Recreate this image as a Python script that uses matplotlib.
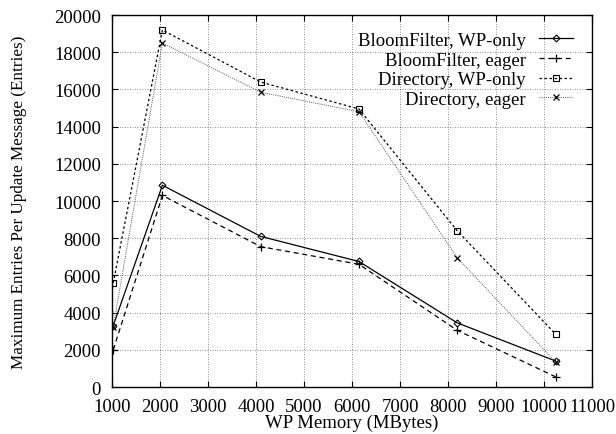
import numpy as np
import matplotlib.pyplot as plt

plt.rcParams['font.family'] = ['Liberation Serif', 'DejaVu Serif']

mem = [1024, 2048, 4096, 6144, 8192, 10240]
bloom_wp = [3300, 10850, 8100, 6750, 3450, 1400]
bloom_eager = [2000, 10300, 7550, 6600, 3050, 550]
dir_wp = [5600, 19200, 16400, 14950, 8400, 2850]
dir_eager = [3250, 18500, 15850, 14800, 6950, 1350]

fig = plt.figure(figsize=(6.16, 4.35), dpi=100)
ax = fig.add_axes([0.182, 0.108, 0.779, 0.855])

ax.plot(mem, bloom_wp, color='black', lw=0.9, ls='-', marker='D', ms=3.5,
        mfc='none', mew=0.8, label='BloomFilter, WP-only')
ax.plot(mem, bloom_eager, color='black', lw=0.9, ls=(0, (4, 3)), marker='+', ms=6,
        mew=0.9, label='BloomFilter, eager')
ax.plot(mem, dir_wp, color='black', lw=0.9, ls=(0, (2, 2)), marker='s', ms=5,
        mfc='none', mew=0.8, label='Directory, WP-only')
ax.plot(mem, dir_eager, color='#555555', lw=0.7, ls=(0, (1, 1.2)), marker='x', ms=5,
        mew=0.9, mec='black', label='Directory, eager')

ax.set_xlim(1000, 11000)
ax.set_ylim(0, 20000)
ax.set_xticks(np.arange(1000, 11001, 1000))
ax.set_yticks(np.arange(0, 20001, 2000))
ax.tick_params(direction='in', top=True, right=True, labelsize=13.5, length=4)
ax.tick_params(axis='x', pad=8)
ax.tick_params(axis='y', pad=8)
ax.grid(color='black', linestyle=(0, (1, 2)), linewidth=0.6, alpha=0.6)
for s in ax.spines.values():
    s.set_linewidth(1.0)

ax.set_xlabel('WP Memory (MBytes)', fontsize=13.5, labelpad=-1)
ax.set_ylabel('Maximum Entries Per Update Message (Entries)', fontsize=12.3)
ax.yaxis.set_label_coords(-0.178, 0.5)

leg = ax.legend(loc='upper right', bbox_to_anchor=(0.976, 0.975), borderaxespad=0,
                frameon=False, markerfirst=False, fontsize=13.5,
                handlelength=1.8, labelspacing=0.13, handletextpad=0.7)

fig.savefig('out.png', dpi=100)
